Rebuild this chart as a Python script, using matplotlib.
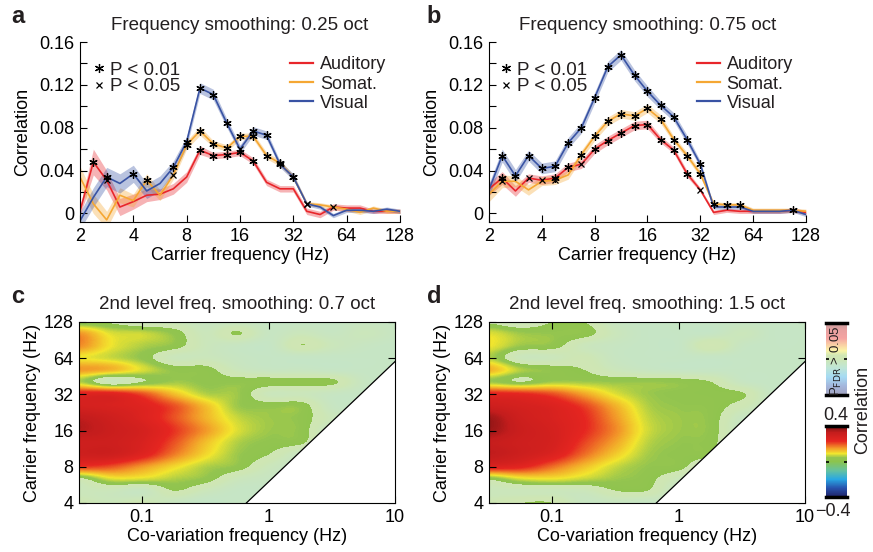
import numpy as np
import matplotlib
matplotlib.use("Agg")
import matplotlib.pyplot as plt
import matplotlib.cm as cm
from matplotlib.colors import LinearSegmentedColormap, ListedColormap, Normalize
from matplotlib.lines import Line2D

plt.rcParams["font.family"] = "Liberation Sans"
plt.rcParams["axes.linewidth"] = 0.8
plt.rcParams["text.color"] = "#231f20"

# carrier frequencies of the line plots (0.25 oct steps)
freqs = [2, 2.38, 2.83, 3.36, 4, 4.76, 5.66, 6.73, 8, 9.51, 11.3, 13.5, 16, 19.0, 22.6, 26.9,
         32, 38.1, 45.3, 53.8, 64, 76.1, 90.5, 108, 128]

# panel a: 0.25 oct smoothing
aud_a = [0.002, 0.048, 0.031, 0.006, 0.011, 0.017, 0.018, 0.023, 0.034, 0.059, 0.054, 0.055, 0.057,
         0.049, 0.029, 0.023, 0.023, 0.002, -0.001, 0.006, 0.005, 0.005, 0.002, 0.002, 0.002]
som_a = [0.034, 0.009, -0.006, 0.017, 0.012, 0.031, 0.017, 0.036, 0.064, 0.077, 0.065, 0.061, 0.072,
         0.072, 0.054, 0.047, 0.034, 0.009, 0.008, 0.006, 0.004, 0.001, 0.005, 0.002, 0.002]
vis_a = [-0.007, 0.015, 0.034, 0.028, 0.037, 0.021, 0.028, 0.043, 0.067, 0.117, 0.111, 0.084, 0.060,
         0.077, 0.073, 0.046, 0.034, 0.009, 0.006, -0.002, 0.003, 0.003, 0.002, 0.004, 0.002]
aud_a_sem = [0.004, 0.012, 0.009, 0.008, 0.007, 0.006, 0.005, 0.005, 0.005, 0.004, 0.003, 0.003, 0.003,
             0.003, 0.003, 0.003, 0.003, 0.003, 0.003, 0.003, 0.003, 0.003, 0.002, 0.002, 0.002]
som_a_sem = [0.010, 0.009, 0.008, 0.007, 0.006, 0.006, 0.005, 0.004, 0.004, 0.004, 0.003, 0.003, 0.003,
             0.003, 0.003, 0.003, 0.002, 0.002, 0.002, 0.002, 0.002, 0.002, 0.002, 0.002, 0.002]
vis_a_sem = [0.008, 0.009, 0.009, 0.009, 0.008, 0.007, 0.007, 0.006, 0.005, 0.005, 0.005, 0.004, 0.004,
             0.004, 0.004, 0.003, 0.003, 0.002, 0.002, 0.002, 0.002, 0.002, 0.002, 0.002, 0.002]
# significance per point: '*' P<0.01, 'x' P<0.05, '.' none
aud_a_sig = ".*x......*****..........."
som_a_sig = ".....*.x*********x.x....."
vis_a_sig = "..*.*..*****x****x......."

# panel b: 0.75 oct smoothing
aud_b = [0.023, 0.033, 0.021, 0.033, 0.031, 0.033, 0.043, 0.046, 0.060, 0.068, 0.075, 0.082, 0.083,
         0.069, 0.059, 0.037, 0.022, 0.001, 0.003, 0.002, 0.002, 0.002, 0.002, 0.003, 0.001]
som_b = [0.018, 0.030, 0.030, 0.022, 0.030, 0.031, 0.036, 0.055, 0.072, 0.086, 0.093, 0.091, 0.098,
         0.088, 0.069, 0.054, 0.037, 0.009, 0.008, 0.008, 0.003, 0.003, 0.003, 0.003, 0.002]
vis_b = [0.022, 0.054, 0.035, 0.054, 0.042, 0.044, 0.066, 0.080, 0.108, 0.137, 0.148, 0.129, 0.114,
         0.101, 0.090, 0.069, 0.046, 0.006, 0.006, 0.006, 0.002, 0.002, 0.002, 0.003, -0.001]
aud_b_sem = [0.006, 0.006, 0.005, 0.004, 0.004, 0.004, 0.004, 0.004, 0.004, 0.004, 0.004, 0.004, 0.004,
             0.003, 0.003, 0.003, 0.002, 0.002, 0.002, 0.002, 0.002, 0.002, 0.002, 0.002, 0.002]
som_b_sem = [0.007, 0.006, 0.005, 0.005, 0.004, 0.004, 0.004, 0.004, 0.004, 0.004, 0.004, 0.004, 0.004,
             0.004, 0.003, 0.003, 0.003, 0.002, 0.002, 0.002, 0.002, 0.002, 0.002, 0.002, 0.002]
vis_b_sem = [0.006, 0.006, 0.006, 0.005, 0.005, 0.005, 0.005, 0.005, 0.005, 0.005, 0.005, 0.005, 0.005,
             0.004, 0.004, 0.004, 0.003, 0.002, 0.002, 0.002, 0.002, 0.002, 0.002, 0.002, 0.002]
aud_b_sig = ".*.xx**x********x........"
som_b_sig = ".x...x.*************....."
vis_b_sig = ".****************......*."

labels = ["Auditory", "Somat.", "Visual"]
colors = ["#e8262b", "#f5a733", "#3953a4"]

# heatmaps: co-variation freq (columns) x carrier freq (rows, listed from 128 Hz down to 4 Hz)
cov_freq = [0.0316, 0.0562, 0.1, 0.178, 0.316, 0.562, 1.0, 1.78, 3.16, 5.62, 10.0]
carrier = [4, 5.04, 6.35, 8, 10.1, 12.7, 16, 20.2, 25.4, 32, 40.3, 50.8, 64, 80.6, 101.6, 128]
map_c = [
    [0.01, 0.01, -0.02, -0.02, -0.04, -0.04, -0.05, -0.05, -0.05, -0.04, -0.05],
    [0.15, 0.08, 0.07, 0.04, -0.02, 0.025, -0.04, -0.02, -0.04, -0.02, -0.04],
    [0.16, 0.09, 0.06, 0.04, -0.02, -0.04, -0.05, 0.02, -0.02, -0.04, -0.05],
    [0.09, 0.07, 0.04, -0.02, -0.02, -0.04, -0.05, -0.05, -0.05, -0.05, -0.05],
    [0.15, 0.13, 0.08, 0.04, 0.035, -0.02, -0.04, -0.04, -0.05, -0.05, -0.05],
    [0.06, -0.02, 0.02, 0.05, 0.04, 0.04, 0.04, 0.035, 0.03, -0.04, -0.05],
    [0.25, 0.25, 0.20, 0.12, 0.06, 0.05, -0.02, -0.02, -0.04, -0.05, -0.05],
    [0.28, 0.27, 0.25, 0.20, 0.12, 0.05, 0.04, 0.04, -0.04, -0.05, -0.05],
    [0.33, 0.30, 0.26, 0.20, 0.13, 0.07, 0.05, 0.04, -0.02, -0.05, -0.05],
    [0.34, 0.31, 0.28, 0.22, 0.15, 0.08, 0.05, 0.04, -0.05, -0.05, -0.05],
    [0.30, 0.30, 0.27, 0.20, 0.12, 0.06, 0.04, 0.03, -0.05, -0.05, -0.05],
    [0.30, 0.30, 0.25, 0.17, 0.10, 0.05, 0.02, -0.04, -0.05, -0.05, -0.05],
    [0.22, 0.20, 0.15, 0.10, 0.06, 0.04, -0.02, -0.05, -0.05, -0.05, -0.05],
    [0.01, 0.08, 0.08, 0.06, 0.04, -0.02, -0.04, -0.05, -0.05, -0.05, -0.05],
    [-0.02, -0.02, -0.04, 0.02, -0.02, -0.05, -0.05, -0.05, -0.05, -0.05, -0.05],
    [0.00, -0.02, 0.00, -0.04, -0.06, -0.05, -0.05, -0.05, -0.05, -0.05, -0.05],
]
map_d = [
    [0.01, -0.02, 0.02, 0.02, -0.04, -0.05, -0.05, -0.05, -0.05, -0.05, -0.05],
    [0.08, 0.05, 0.045, 0.04, -0.02, -0.05, -0.05, -0.05, -0.02, -0.05, -0.05],
    [0.09, 0.05, 0.04, -0.02, -0.04, -0.05, -0.05, 0.02, -0.04, -0.05, -0.05],
    [0.06, -0.02, -0.02, 0.00, -0.04, -0.05, -0.05, -0.05, -0.05, -0.05, -0.05],
    [0.13, 0.06, 0.04, 0.02, -0.02, -0.04, -0.05, -0.05, -0.05, -0.05, -0.05],
    [0.05, 0.02, 0.05, 0.05, 0.045, 0.045, 0.04, 0.02, -0.04, -0.05, -0.05],
    [0.24, 0.23, 0.20, 0.14, 0.08, 0.05, 0.04, 0.035, 0.025, -0.05, -0.05],
    [0.30, 0.28, 0.26, 0.21, 0.13, 0.06, 0.045, 0.04, 0.00, -0.05, -0.05],
    [0.36, 0.30, 0.27, 0.23, 0.15, 0.07, 0.05, 0.04, -0.04, -0.05, -0.05],
    [0.36, 0.31, 0.28, 0.23, 0.16, 0.075, 0.05, 0.04, -0.05, -0.05, -0.05],
    [0.32, 0.30, 0.28, 0.21, 0.14, 0.065, 0.045, 0.035, -0.05, -0.05, -0.05],
    [0.33, 0.30, 0.26, 0.18, 0.11, 0.055, 0.04, 0.03, -0.05, -0.05, -0.05],
    [0.26, 0.24, 0.18, 0.12, 0.07, 0.045, 0.035, -0.04, -0.05, -0.05, -0.05],
    [0.03, 0.08, 0.09, 0.07, 0.05, 0.035, -0.02, -0.05, -0.05, -0.05, -0.05],
    [-0.02, -0.02, -0.02, -0.02, 0.02, 0.02, -0.05, -0.05, -0.05, -0.05, -0.05],
    [0.00, 0.02, 0.02, -0.04, -0.04, -0.05, -0.05, -0.05, -0.05, -0.05, -0.05],
]
sig_thresh = 0.02  # below this the map is shown faded (P_FDR > 0.05)
cutoff_ratio = 6   # carrier must be > 6x co-variation frequency

# colormap: navy - blue - cyan - green - yellow - orange - red - dark red
anchors = [(-0.4, "#1f2166"), (-0.3, "#2752ad"), (-0.2, "#29a8e3"), (-0.1, "#66c29e"),
           (0.0, "#8cc44d"), (0.045, "#93c550"), (0.09, "#f2e62e"), (0.15, "#f39a29"),
           (0.23, "#e62621"), (0.33, "#c41d1d"), (0.4, "#6e1212")]
base_cmap = LinearSegmentedColormap.from_list(
    "corr", [((v + 0.4) / 0.8, c) for v, c in anchors])
fade = 0.42
vals = np.linspace(-0.4, 0.4, 801)
rgb = base_cmap((vals + 0.4) / 0.8)[:, :3]
faded_rgb = rgb * fade + (1 - fade)
faded_cmap = ListedColormap(faded_rgb)
sig_cmap = ListedColormap(np.where((vals >= sig_thresh)[:, None], rgb, faded_rgb))

fig = plt.figure(figsize=(8.73, 5.52), dpi=100)
ax_a = fig.add_axes([0.0916, 0.5978, 0.3666, 0.3261])
ax_b = fig.add_axes([0.5601, 0.5978, 0.3631, 0.3261])
ax_c = fig.add_axes([0.0905, 0.0888, 0.3620, 0.3279])
ax_d = fig.add_axes([0.5601, 0.0888, 0.3620, 0.3279])
cax_p = fig.add_axes([0.9462, 0.2844, 0.0241, 0.1304])
cax_r = fig.add_axes([0.9462, 0.0996, 0.0241, 0.1286])

ASTERISK = (6, 2, 0)


def draw_lines(ax, series, sems, sigs, title, leg_x, sig_x):
    x = np.array(freqs)
    for y, s, col in zip(series, sems, colors):
        y = np.array(y)
        s = np.array(s)
        ax.fill_between(x, y - s, y + s, color=col, alpha=0.35, lw=0)
    for y, col, lab in zip(series, colors, labels):
        ax.plot(x, y, color=col, lw=1.2, label=lab)
    for y, sig in zip(series, sigs):
        y = np.array(y)
        star = np.array([c == "*" for c in sig])
        cross = np.array([c == "x" for c in sig])
        ax.plot(x[star], y[star], ls="none", marker=ASTERISK, ms=6, mew=0.9, color="k")
        ax.plot(x[cross], y[cross], ls="none", marker="x", ms=4, mew=0.9, color="k")

    ax.set_xscale("log", base=2)
    ax.set_xlim(2, 128)
    ax.set_ylim(-0.008, 0.16)
    ax.set_xticks([2, 4, 8, 16, 32, 64, 128])
    ax.set_xticklabels(["2", "4", "8", "16", "32", "64", "128"])
    ax.xaxis.set_minor_locator(matplotlib.ticker.NullLocator())
    ax.set_yticks([0, 0.04, 0.08, 0.12, 0.16])
    ax.set_yticklabels(["0", "0.04", "0.08", "0.12", "0.16"])
    ax.set_yticks([0.02, 0.06, 0.10, 0.14], minor=True)
    ax.tick_params(which="both", direction="in", length=5, width=0.8, labelsize=13, pad=4)
    ax.spines["top"].set_visible(False)
    ax.spines["right"].set_visible(False)
    ax.set_xlabel("Carrier frequency (Hz)", fontsize=13, labelpad=2)
    ax.set_ylabel("Correlation", fontsize=13, labelpad=6)
    ax.set_title(title, fontsize=13.5, pad=9)

    leg = ax.legend(loc="upper left", bbox_to_anchor=(leg_x, 0.92), frameon=False, fontsize=13,
                    handlelength=1.3, handletextpad=0.35, labelspacing=0.12,
                    borderpad=0, borderaxespad=0)
    for h in leg.get_lines():
        h.set_linewidth(1.6)
    ax.add_artist(leg)
    keys = [Line2D([], [], ls="none", marker=ASTERISK, ms=6.5, mew=0.9, color="k"),
            Line2D([], [], ls="none", marker="x", ms=4.5, mew=0.9, color="k")]
    ax.legend(keys, ["P < 0.01", "P < 0.05"], loc="upper left", bbox_to_anchor=(sig_x, 0.89),
              frameon=False, fontsize=13.5, handlelength=0.6, handletextpad=0.3,
              labelspacing=-0.05, borderpad=0, borderaxespad=0)


def draw_map(ax, z, title):
    xl = np.log10(cov_freq)
    yl = np.log2(carrier)
    dx = xl[1] - xl[0]
    dy = yl[1] - yl[0]
    ax.imshow(np.array(z), origin="upper", aspect="auto", cmap=sig_cmap, vmin=-0.4, vmax=0.4,
              extent=[xl[0] - dx / 2, xl[-1] + dx / 2, yl[0] - dy / 2, yl[-1] + dy / 2],
              interpolation="catrom", interpolation_stage="data")
    # no estimate where the carrier is below cutoff_ratio x co-variation frequency
    edge_x = [np.log10(carrier[0] / cutoff_ratio), xl[-1], xl[-1]]
    edge_y = [yl[0], np.log2(cov_freq[-1] * cutoff_ratio), yl[0]]
    ax.fill(edge_x, edge_y, color="white", lw=0, zorder=2)
    ax.plot(edge_x[:2], edge_y[:2], color="k", lw=0.9, zorder=3)
    ax.set_xlim(xl[0], xl[-1])
    ax.set_ylim(yl[0], yl[-1])
    ax.set_xticks(np.log10([0.1, 1, 10]))
    ax.set_xticklabels(["0.1", "1", "10"])
    ax.set_yticks(np.log2([4, 8, 16, 32, 64, 128]))
    ax.set_yticklabels(["4", "8", "16", "32", "64", "128"])
    ax.tick_params(direction="in", top=True, right=True, length=5, width=0.8, labelsize=13, pad=4)
    for sp in ax.spines.values():
        sp.set_zorder(4)
    ax.set_xlabel("Co-variation frequency (Hz)", fontsize=13, labelpad=2)
    ax.set_ylabel("Carrier frequency (Hz)", fontsize=13, labelpad=2)
    ax.set_title(title, fontsize=13.5, pad=9)


draw_lines(ax_a, [aud_a, som_a, vis_a], [aud_a_sem, som_a_sem, vis_a_sem],
           [aud_a_sig, som_a_sig, vis_a_sig], "Frequency smoothing: 0.25 oct", 0.656, 0.042)
draw_lines(ax_b, [aud_b, som_b, vis_b], [aud_b_sem, som_b_sem, vis_b_sem],
           [aud_b_sig, som_b_sig, vis_b_sig], "Frequency smoothing: 0.75 oct", 0.656, 0.036)
draw_map(ax_c, map_c, "2nd level freq. smoothing: 0.7 oct")
draw_map(ax_d, map_d, "2nd level freq. smoothing: 1.5 oct")

# colorbars
norm = Normalize(-0.4, 0.4)
for cax, cmap in [(cax_p, faded_cmap), (cax_r, base_cmap)]:
    cb = fig.colorbar(cm.ScalarMappable(norm=norm, cmap=cmap), cax=cax)
    cb.outline.set_visible(False)
    cb.set_ticks([0])
    cax.minorticks_off()
    cax.tick_params(direction="in", left=True, right=True, labelleft=False, labelright=False,
                    length=2.5, width=1.2)
    cax.axhline(0.4, color="k", lw=2.5, clip_on=False)
    cax.axhline(-0.4, color="k", lw=2.5, clip_on=False)
cax_p.text(0.5, 0.48, r"P$_{\rm FDR}$ > 0.05", rotation=90, transform=cax_p.transAxes,
           ha="center", va="center", fontsize=9.5)
fig.text(0.957, 1 - 416 / 552, "0.4", ha="center", va="center", fontsize=13)
fig.text(0.934, 1 - 511 / 552, "\u22120.4", ha="left", va="center", fontsize=13)
fig.text(0.988, 1 - 410 / 552, "Correlation", rotation=90, ha="center", va="center", fontsize=13)

# panel letters
for x, y, letter in [(0.013, 0.958, "a"), (0.489, 0.958, "b"), (0.013, 0.451, "c"), (0.489, 0.451, "d")]:
    fig.text(x, y, letter, fontsize=17, fontweight="bold", va="baseline")

fig.savefig("out.png", dpi=100)
